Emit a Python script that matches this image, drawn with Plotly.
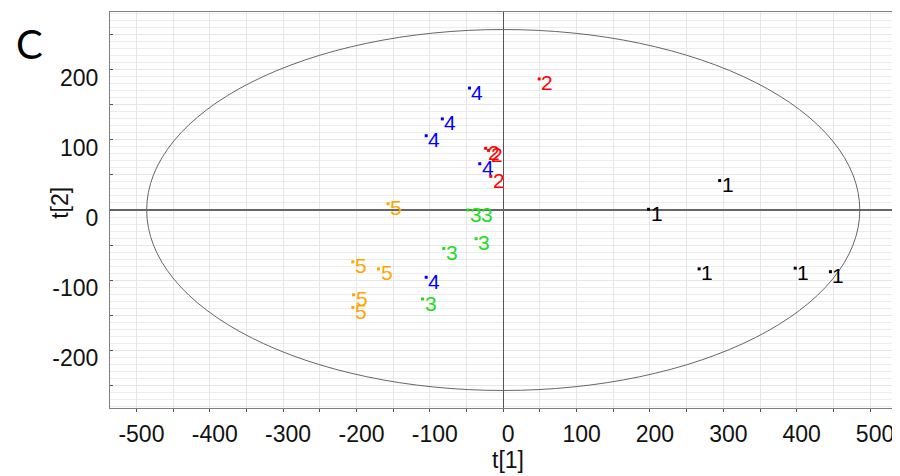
import plotly.graph_objects as go

# ---- data ----
group_names = ["1", "2", "3", "4", "5"]
group_colors = ["#000000", "#ff0000", "#22dd22", "#0000ff", "#ffa500"]

g1_x = [295, 198, 267, 398, 446]
g1_y = [42, 1, -84, -83, -88]
g2_x = [49, -24, -20, -17]
g2_y = [187, 88, 85, 48]
g3_x = [-48, -33, -37, -81, -110]
g3_y = [0, 0, -41, -55, -127]
g4_x = [-46, -83, -105, -32, -105]
g4_y = [174, 130, 106, 66, -96]
g5_x = [-157, -205, -170, -204, -205]
g5_y = [9, -74, -84, -121, -139]

groups_x = [g1_x, g2_x, g3_x, g4_x, g5_x]
groups_y = [g1_y, g2_y, g3_y, g4_y, g5_y]

x_tickvals = [-500, -450, -400, -350, -300, -250, -200, -150, -100, -50, 0,
              50, 100, 150, 200, 250, 300, 350, 400, 450, 500]
x_ticktext = ["-500", "", "-400", "", "-300", "", "-200", "", "-100", "", "0",
              "", "100", "", "200", "", "300", "", "400", "", "500"]
y_tickvals = [-250, -200, -150, -100, -50, 0, 50, 100, 150, 200, 250]
y_ticktext = ["", "-200", "", "-100", "", "0", "", "100", "", "200", ""]

ellipse_a = 486     # Hotelling T2 ellipse semi-axes
ellipse_b = 257.5

x_range = [-536, 534]
y_range = [-282.5, 282.5]

panel_label = "C"
x_title = "t[1]"
y_title = "t[2]"

# ---- figure ----
fig = go.Figure()

annotations = []
for name, color, xs, ys in zip(group_names, group_colors, groups_x, groups_y):
    fig.add_trace(go.Scatter(
        x=xs, y=ys, mode="markers",
        marker=dict(symbol="square", size=3, color=color, line=dict(width=0)),
        showlegend=False, hoverinfo="skip",
    ))
    for xv, yv in zip(xs, ys):
        annotations.append(dict(
            x=xv, y=yv, xref="x", yref="y", text=name, showarrow=False,
            xanchor="left", yanchor="middle", xshift=0, yshift=-4,
            font=dict(family="Liberation Sans, Arial, sans-serif", size=21, color=color),
        ))

annotations.append(dict(
    x=-0.1025, y=0.92, xref="paper", yref="paper", text=panel_label,
    showarrow=False, xanchor="center", yanchor="middle",
    font=dict(family="Lato, Open Sans, sans-serif", size=40, color="#000"),
))
annotations.append(dict(
    x=0.507, y=-0.131, xref="paper", yref="paper", text=x_title,
    showarrow=False, xanchor="center", yanchor="middle",
    font=dict(family="Liberation Sans, Arial, sans-serif", size=23, color="#111"),
))
annotations.append(dict(
    x=-0.0637, y=0.518, xref="paper", yref="paper", text=y_title,
    showarrow=False, xanchor="center", yanchor="middle", textangle=-90,
    font=dict(family="Liberation Sans, Arial, sans-serif", size=23, color="#111"),
))

fig.add_shape(type="circle", xref="x", yref="y",
              x0=-ellipse_a, x1=ellipse_a, y0=-ellipse_b, y1=ellipse_b,
              line=dict(color="#666666", width=1), layer="above")

tick_font = dict(family="Liberation Sans, Arial, sans-serif", size=23, color="#111")

# the page body adds an 8px margin, so the figure is sized to fit inside 900x476
fig.update_layout(
    width=892, height=468,
    margin=dict(l=102, r=5, t=4, b=68),
    paper_bgcolor="white", plot_bgcolor="white",
    annotations=annotations,
    xaxis=dict(
        automargin=False,
        range=x_range, tickmode="array", tickvals=x_tickvals, ticktext=x_ticktext,
        ticks="outside", ticklen=3, tickcolor="#555", tickfont=tick_font,
        ticklabelshift=5, ticklabelstandoff=2,
        showgrid=True, gridcolor="#e6e6e6", gridwidth=1,
        zeroline=True, zerolinecolor="#555555", zerolinewidth=1,
        showline=True, linecolor="#808080", linewidth=1, mirror=True,
    ),
    yaxis=dict(
        automargin=False,
        range=y_range, tickmode="array", tickvals=y_tickvals, ticktext=y_ticktext,
        ticks="inside", ticklen=3, tickcolor="#555", tickfont=tick_font,
        ticklabelshift=8, ticklabelstandoff=6,
        showgrid=True, gridcolor="#e6e6e6", gridwidth=1,
        minor=dict(dtick=10, showgrid=True, gridcolor="#ececec", gridwidth=1, ticks=""),
        zeroline=True, zerolinecolor="#666666", zerolinewidth=1.5,
        showline=True, linecolor="#808080", linewidth=1, mirror=True,
    ),
)

fig.write_html("out.html")
